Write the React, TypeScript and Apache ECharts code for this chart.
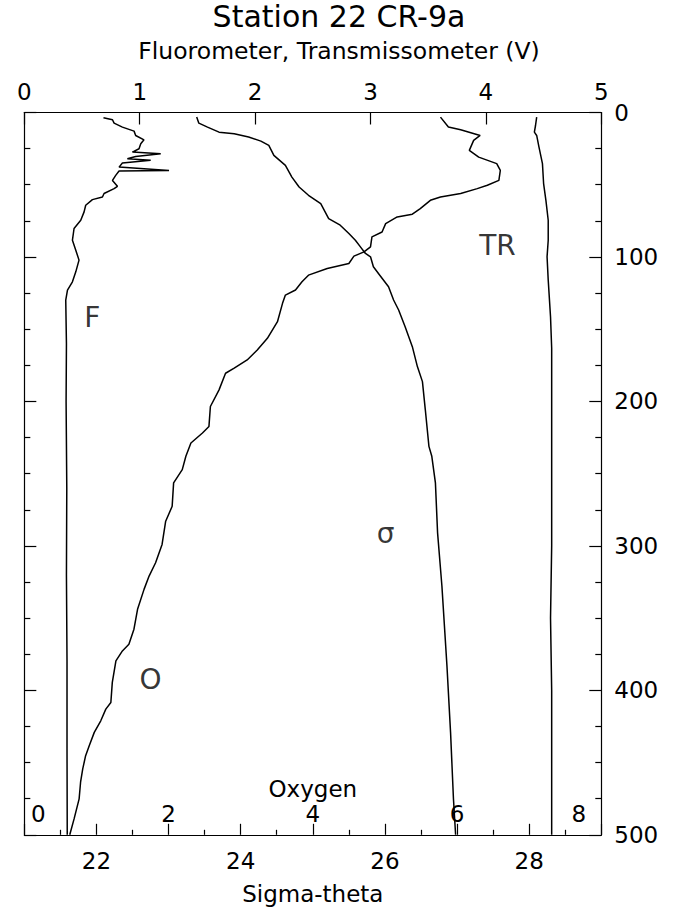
import React, { useEffect, useRef } from "react";
import * as echarts from "echarts";

// Fluorometer (V) vs depth (m)
const fluorDepth = [3.7, 5.0, 7.4, 10.1, 12.9, 15.9, 18.9, 21.6, 25.1, 27.4, 28.5, 30.4, 32.0, 33.1, 35.0, 37.8, 40.1, 40.5, 43.5, 47.0, 51.1, 52.7, 56.1, 58.5, 60.3, 64.2, 68.8, 74.6, 80.3, 88.4, 95.3, 102.2, 110.3, 117.2, 122.9, 129.8, 160, 200, 260, 320, 380, 440, 500];
const fluorV = [0.686, 0.764, 0.778, 0.85, 0.951, 0.965, 1.037, 1.009, 0.994, 0.937, 1.182, 0.965, 0.893, 1.095, 0.85, 0.821, 1.254, 0.821, 0.792, 0.764, 0.807, 0.778, 0.691, 0.677, 0.59, 0.532, 0.518, 0.489, 0.431, 0.417, 0.446, 0.474, 0.446, 0.417, 0.374, 0.359, 0.365, 0.362, 0.368, 0.365, 0.37, 0.37, 0.372];

// Transmissometer (V) vs depth (m)
const trDepth = [3.2, 9.0, 13.6, 15.9, 24.0, 35.4, 49.2, 60.8, 74.6, 88.4, 99.9, 116.0, 141.4, 163.2, 220, 300, 350, 400, 450, 500];
const trV = [4.44, 4.43, 4.42, 4.44, 4.46, 4.49, 4.5, 4.52, 4.54, 4.54, 4.53, 4.54, 4.56, 4.57, 4.57, 4.57, 4.56, 4.57, 4.57, 4.57];

// Sigma-theta vs depth (m)
const sigDepth = [3.2, 7.4, 10.1, 13.6, 14.7, 17.0, 19.8, 22.8, 29.7, 36.6, 44.7, 51.6, 57.3, 63.1, 73.4, 78.0, 83.8, 88.4, 93.0, 97.6, 99.9, 106.8, 111.4, 120.6, 129.8, 136.7, 148.3, 162.1, 175.9, 186.3, 205.8, 231.1, 238.0, 256.4, 291.0, 327.8, 383.1, 429.1, 475.1, 500];
const sigVal = [23.39, 23.42, 23.54, 23.7, 23.91, 24.11, 24.28, 24.39, 24.46, 24.62, 24.71, 24.81, 24.94, 25.11, 25.22, 25.38, 25.5, 25.59, 25.66, 25.73, 25.8, 25.84, 25.91, 26.05, 26.12, 26.19, 26.28, 26.38, 26.45, 26.52, 26.56, 26.61, 26.65, 26.7, 26.73, 26.79, 26.86, 26.91, 26.95, 26.98];

// Oxygen vs depth (m)
const oxyDepth = [3.2, 10.1, 12.0, 15.9, 19.3, 26.2, 30.9, 35.4, 40.1, 47.0, 50.4, 52.7, 56.1, 58.5, 60.8, 66.5, 70.4, 72.3, 76.9, 82.7, 86.1, 93.0, 96.5, 99.4, 104.5, 108.0, 112.6, 117.2, 122.9, 126.4, 132.1, 144.8, 156.3, 164.4, 171.3, 177.0, 180.5, 192.0, 203.5, 217.3, 221.9, 228.8, 238.0, 247.2, 256.4, 272.6, 282.9, 299.0, 311.7, 320.9, 330.1, 343.9, 357.7, 368.1, 372.7, 379.6, 394.5, 408.4, 413.0, 421.1, 429.1, 438.3, 445.2, 454.4, 463.6, 475.1, 489, 500];
const oxyVal = [5.77, 5.88, 6.05, 6.32, 6.23, 6.17, 6.3, 6.55, 6.6, 6.58, 6.42, 6.28, 6.05, 5.77, 5.63, 5.49, 5.38, 5.17, 5.01, 4.96, 4.82, 4.8, 4.71, 4.57, 4.5, 4.2, 3.94, 3.85, 3.76, 3.62, 3.58, 3.51, 3.37, 3.23, 3.09, 2.91, 2.79, 2.7, 2.58, 2.56, 2.47, 2.31, 2.24, 2.19, 2.07, 2.05, 1.96, 1.91, 1.82, 1.73, 1.66, 1.57, 1.52, 1.45, 1.36, 1.27, 1.22, 1.2, 1.13, 1.06, 0.97, 0.9, 0.85, 0.81, 0.78, 0.76, 0.69, 0.63];

// Curve labels: [x value, depth]
const labelF = [0.59, 141.9];
const labelTR = [4.1, 92.3];
const labelSigma = [26.01, 291.6];
const labelO = [1.75, 392.3];

const topTicks = [0, 1, 2, 3, 4, 5];
const depthTicks = [0, 100, 200, 300, 400, 500];

const FONT = "DejaVu Sans";

const zip = (xs: number[], ys: number[]) => xs.map((x, i) => [x, ys[i]]);

export default function App() {
  const ref = useRef<HTMLDivElement>(null);
  useEffect(() => {
    const chart = echarts.init(ref.current!, null, { renderer: "svg" });
    const lineStyle = { color: "#000", width: 1.5 };
    const mkLine = (name: string, xi: number, data: number[][]) => ({
      name,
      type: "line",
      xAxisIndex: xi,
      yAxisIndex: 0,
      data,
      symbol: "none",
      showSymbol: false,
      silent: true,
      lineStyle,
    });
    const mkLabel = (text: string, xi: number, pos: number[]) => ({
      type: "scatter",
      xAxisIndex: xi,
      yAxisIndex: 0,
      symbolSize: 1,
      silent: true,
      itemStyle: { color: "rgba(0,0,0,0)" },
      data: [{ value: pos, name: text }],
      label: {
        show: true,
        position: "inside",
        formatter: "{b}",
        color: "#000",
        textBorderWidth: 0,
        fontSize: 28,
        fontFamily: FONT,
      },
    });
    const tickStyle = { color: "#000", width: 1.2 };
    const axisLine = { show: true, onZero: false, lineStyle: tickStyle };
    const option: any = {
      animation: false,
      backgroundColor: "#fff",
      textStyle: { fontFamily: FONT, color: "#000" },
      title: {
        text: "Station 22 CR-9a",
        subtext: "Fluorometer, Transmissometer (V)",
        left: "center",
        top: 1,
        padding: 0,
        itemGap: 8,
        textStyle: { fontFamily: FONT, fontSize: 30, fontWeight: "normal", color: "#000" },
        subtextStyle: { fontFamily: FONT, fontSize: 23.5, color: "#000" },
      },
      grid: { left: 23.5, right: 76.7, top: 112.5, bottom: 76.2, containLabel: false },
      xAxis: [
        {
          type: "value",
          position: "top",
          min: topTicks[0],
          max: topTicks[topTicks.length - 1],
          interval: 1,
          axisLine,
          axisTick: { show: true, inside: true, length: 12, lineStyle: tickStyle },
          axisLabel: { color: "#000", fontSize: 23, fontFamily: FONT, margin: 9.5 },
          splitLine: { show: false },
        },
        {
          type: "value",
          position: "bottom",
          min: 21,
          max: 29,
          interval: 1,
          axisLine,
          axisTick: { show: true, inside: true, length: 11, lineStyle: tickStyle },
          minorTick: { show: true, splitNumber: 2, length: 5, lineStyle: tickStyle },
          axisLabel: {
            color: "#000",
            fontSize: 23,
            fontFamily: FONT,
            margin: 15,
            formatter: (v: number) => (v % 2 === 0 ? String(v) : ""),
          },
          splitLine: { show: false },
          name: "Sigma-theta",
          nameLocation: "middle",
          nameGap: 48,
          nameTextStyle: { fontSize: 23, fontFamily: FONT, color: "#000" },
        },
        {
          type: "value",
          position: "bottom",
          min: 0,
          max: 8,
          interval: 2,
          axisLine: { show: false, onZero: false },
          axisTick: { show: false },
          splitLine: { show: false },
          axisLabel: {
            inside: true,
            margin: 9,
            color: "#000",
            fontSize: 23,
            lineHeight: 24,
            fontFamily: FONT,
            showMinLabel: true,
            showMaxLabel: true,
            formatter: (v: number) =>
              v === 0 ? "{l|0}" : v === 8 ? "{r|8}" : v === 4 ? "{o|Oxygen}\n{d|4}" : "{d|" + v + "}",
            rich: {
              l: { padding: [0, 0, 0, 28], fontSize: 23, lineHeight: 24, fontFamily: FONT, color: "#000" },
              r: { padding: [0, 45, 0, 0], fontSize: 23, lineHeight: 24, fontFamily: FONT, color: "#000" },
              d: { fontSize: 23, lineHeight: 23, fontFamily: FONT, color: "#000" },
              o: { fontSize: 23, lineHeight: 27, fontFamily: FONT, color: "#000" },
            },
          },
        },
      ],
      yAxis: [
        {
          type: "value",
          position: "left",
          inverse: true,
          min: depthTicks[0],
          max: depthTicks[depthTicks.length - 1],
          interval: 100,
          axisLine,
          axisTick: { show: true, inside: true, length: 12, lineStyle: tickStyle },
          minorTick: { show: true, splitNumber: 4, length: 6, lineStyle: tickStyle },
          axisLabel: { show: false },
          splitLine: { show: false },
        },
        {
          type: "value",
          position: "right",
          inverse: true,
          min: depthTicks[0],
          max: depthTicks[depthTicks.length - 1],
          interval: 100,
          axisLine,
          axisTick: { show: true, inside: true, length: 12, lineStyle: tickStyle },
          minorTick: { show: true, splitNumber: 4, length: 6, lineStyle: tickStyle },
          axisLabel: { show: true, color: "#000", fontSize: 23, fontFamily: FONT, margin: 13 },
          splitLine: { show: false },
        },
      ],
      series: [
        mkLine("Fluorometer", 0, zip(fluorV, fluorDepth)),
        mkLine("Transmissometer", 0, zip(trV, trDepth)),
        mkLine("Sigma-theta", 1, zip(sigVal, sigDepth)),
        mkLine("Oxygen", 2, zip(oxyVal, oxyDepth)),
        mkLabel("F", 0, labelF),
        mkLabel("TR", 0, labelTR),
        mkLabel("σ", 1, labelSigma),
        mkLabel("O", 2, labelO),
      ],
    };
    chart.setOption(option);
    return () => chart.dispose();
  }, []);
  return (
    <div
      ref={ref}
      style={{ position: "absolute", left: 0, top: 0, width: 678, height: 911 }}
    />
  );
}
